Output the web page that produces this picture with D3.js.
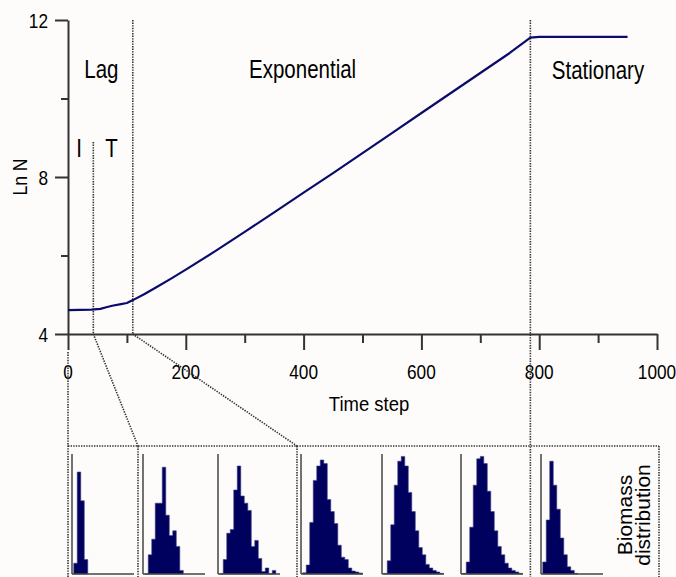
<!DOCTYPE html>
<html lang="en">
	<head>
		<meta charset="UTF-8" />
		<script src="https://d3js.org/d3.v7.min.js"></script>
		<style>
			body { margin:0; background:#fdfcfa; }
			svg { display:block; }
			text { font-family: "Liberation Sans", Arial, sans-serif; fill:#000; }
			.axis path, .axis line { stroke:#333; stroke-width:2; }
			.dots { stroke:#333; fill:none; stroke-width:1.6; stroke-dasharray:1.4,1.2; }
		</style>
	</head>
	<body>
		<script>
			// growth curve
			var timeSteps = [0, 40, 55, 65, 75, 90, 100, 111, 130, 150, 175, 200, 250, 300, 350, 400, 450, 500, 550, 600, 650, 700, 750, 785, 800, 950];
			var lnN      = [4.61, 4.62, 4.64, 4.68, 4.72, 4.76, 4.79, 4.87, 5.02, 5.19, 5.41, 5.64, 6.11, 6.60, 7.10, 7.60, 8.10, 8.61, 9.12, 9.63, 10.14, 10.65, 11.16, 11.55, 11.57, 11.57];

			// phase boundaries (time step)
			var splitIT = 43, lagEnd = 110, statStart = 785;

			var xTicks = [0, 100, 200, 300, 400, 500, 600, 700, 800, 900, 1000];
			var xLabels = [0, 200, 400, 600, 800, 1000];
			var yTicks = [4, 6, 8, 10, 12];
			var yLabels = [4, 8, 12];

			// biomass histograms (relative bin heights)
			var hist1 = [0.09, 0.85, 0.61, 0.12];
			var hist2 = [0, 0.16, 0.29, 0.59, 0.59, 0.89, 0.49, 0.32, 0.36, 0.23, 0.03];
			var hist3 = [0, 0.12, 0.34, 0.37, 0.70, 0.90, 0.65, 0.59, 0.53, 0.23, 0.28, 0.13, 0.02, 0.05, 0, 0.03];
			var hist4 = [0.01, 0.075, 0.43, 0.78, 0.90, 0.95, 0.92, 0.62, 0.52, 0.42, 0.24, 0.14, 0.12, 0.05, 0.025, 0.017, 0.008];
			var hist5 = [0.005, 0.11, 0.41, 0.74, 0.94, 0.98, 0.90, 0.68, 0.52, 0.36, 0.22, 0.16, 0.08, 0.05, 0.03, 0.017, 0.005];
			var hist6 = [0.005, 0.10, 0.39, 0.74, 0.96, 0.98, 0.92, 0.69, 0.52, 0.36, 0.23, 0.16, 0.09, 0.05, 0.03, 0.017, 0.005];
			var hist7 = [0.10, 0.45, 0.94, 0.74, 0.54, 0.30, 0.16, 0.06, 0.03, 0.005];
			var hists = [hist1, hist2, hist3, hist4, hist5, hist6, hist7];

			var W = 676, H = 577;
			var navy = "#00005e";

			var svg = d3.select("body").append("svg")
				.attr("width", W)
				.attr("height", H);
			svg.append("rect").attr("width", W).attr("height", H).attr("fill", "#fdfcfa");

			var x = d3.scaleLinear().domain([0, 1000]).range([68, 657]);
			var y = d3.scaleLinear().domain([4, 12]).range([334, 20]);

			// narrow text (the original uses a condensed face)
			function label(txt, px, py, size, anchor, sx, rot) {
				return svg.append("text")
					.attr("transform", "translate(" + px + "," + py + ") rotate(" + (rot || 0) + ") scale(" + sx + ",1)")
					.attr("font-size", size)
					.attr("text-anchor", anchor)
					.text(txt);
			}

			// axes
			var yAxis = svg.append("g").attr("class", "axis")
				.attr("transform", "translate(" + x(0) + ",0)")
				.call(d3.axisLeft(y).tickValues(yTicks).tickSizeOuter(0).tickFormat(""));
			yAxis.selectAll(".tick line").attr("x2", function(d) { return yLabels.indexOf(d) >= 0 ? -13 : -7; });

			var xAxis = svg.append("g").attr("class", "axis")
				.attr("transform", "translate(0," + y(4) + ")")
				.call(d3.axisBottom(x).tickValues(xTicks).tickSizeOuter(0).tickFormat(""));
			xAxis.selectAll(".tick line").attr("y2", function(d) { return xLabels.indexOf(d) >= 0 ? 16 : 9; });

			yLabels.forEach(function(v) { label(v, 48, y(v) + 7.5, 21, "end", 0.82); });
			xLabels.forEach(function(v) { label(v, x(v), 379, 21, "middle", 0.82); });

			label("Time step", 369, 411, 21, "middle", 0.88);
			label("Ln N", 27, y(8), 20, "middle", 0.88, -90);

			// phase lines
			svg.append("line").attr("class", "dots")
				.attr("x1", x(splitIT)).attr("x2", x(splitIT)).attr("y1", 142).attr("y2", y(4));
			svg.append("line").attr("class", "dots")
				.attr("x1", x(lagEnd)).attr("x2", x(lagEnd)).attr("y1", y(12)).attr("y2", y(4));
			svg.append("line").attr("class", "dots")
				.attr("x1", x(statStart)).attr("x2", x(statStart)).attr("y1", y(12)).attr("y2", H);

			label("Lag", (x(0) + x(lagEnd)) / 2 + 1, 78, 25, "middle", 0.82);
			label("Exponential", (x(lagEnd) + x(statStart)) / 2 - 29, 78, 25, "middle", 0.82);
			label("Stationary", 598, 79, 25, "middle", 0.82);
			label("I", 79, 157, 25, "middle", 0.82);
			label("T", 111.5, 157, 25, "middle", 0.82);

			// growth curve
			var line = d3.line()
				.x(function(d, i) { return x(timeSteps[i]); })
				.y(function(d) { return y(d); });
			svg.append("path")
				.datum(lnN)
				.attr("d", line)
				.attr("fill", "none")
				.attr("stroke", "#0b0b6b")
				.attr("stroke-width", 2.2)
				.attr("stroke-linejoin", "round");

			// zoom-out box for the histograms
			var boxTop = 446, boxRight = 659;
			var div1 = 138, div2 = 297;
			svg.append("line").attr("class", "dots").attr("x1", x(0)).attr("x2", x(0)).attr("y1", 352).attr("y2", H);
			svg.append("line").attr("class", "dots").attr("x1", x(0)).attr("x2", boxRight).attr("y1", boxTop).attr("y2", boxTop);
			svg.append("line").attr("class", "dots").attr("x1", boxRight).attr("x2", boxRight).attr("y1", boxTop).attr("y2", H);
			[div1, div2].forEach(function(d) {
				svg.append("line").attr("class", "dots").attr("x1", d).attr("x2", d).attr("y1", boxTop).attr("y2", H);
			});
			svg.append("line").attr("class", "dots")
				.attr("x1", x(splitIT)).attr("y1", y(4)).attr("x2", div1).attr("y2", boxTop);
			svg.append("line").attr("class", "dots")
				.attr("x1", x(lagEnd)).attr("y1", y(4)).attr("x2", div2).attr("y2", boxTop);

			// histograms, each drawn as one stepped area so bins have no seams
			var panelX = [72, 143, 218, 301, 382, 461, 541];
			var panelW = 62;
			var hx = d3.scaleLinear().domain([-0.5, 17.2]).range([0, panelW]);
			var hy = d3.scaleLinear().domain([0, 1]).range([574, 454]);
			var step = d3.area()
				.x(function(d, i) { return hx(i); })
				.y0(hy(0))
				.y1(function(d) { return hy(d); })
				.curve(d3.curveStepAfter);

			hists.forEach(function(h, k) {
				var g = svg.append("g").attr("transform", "translate(" + panelX[k] + ",0)");
				g.append("path")
					.datum(h.concat([0]))
					.attr("d", step)
					.attr("fill", navy)
					.attr("stroke", "#3c3c84")
					.attr("stroke-width", 0.6);
				g.append("line").attr("x1", 0).attr("x2", 0).attr("y1", hy(1)).attr("y2", hy(0))
					.attr("stroke", "#444").attr("stroke-width", 1.5);
				g.append("line").attr("x1", 0).attr("x2", panelW).attr("y1", hy(0)).attr("y2", hy(0))
					.attr("stroke", "#444").attr("stroke-width", 1.5);
			});

			label("Biomass", 632, 515, 21, "middle", 1, -90);
			label("distribution", 650, 515, 21, "middle", 1, -90);
		</script>
	</body>
</html>
